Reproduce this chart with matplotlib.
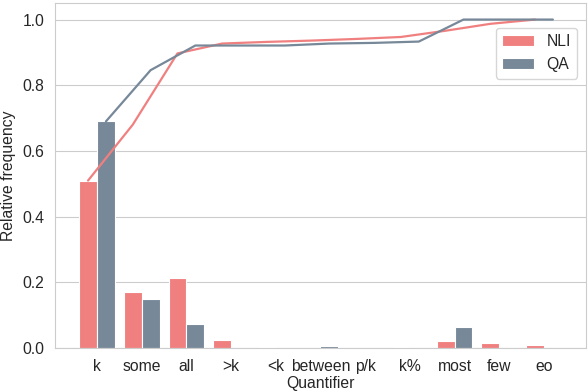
import numpy as np
import matplotlib.pyplot as plt
import seaborn as sns

quantifiers = ['k', 'some', 'all', '>k', '<k', 'between', 'p/k', 'k%', 'most', 'few', 'eo']
nli_freq = [0.508, 0.170, 0.212, 0.024, 0.002, 0.0, 0.0, 0.003, 0.021, 0.014, 0.009]
qa_freq = [0.690, 0.149, 0.073, 0.0, 0.001, 0.006, 0.0, 0.0, 0.064, 0.0, 0.0]
nli_cum = [0.51, 0.68, 0.897, 0.927, 0.932, 0.936, 0.941, 0.947, 0.966, 0.987, 1.0]
qa_cum = [0.69, 0.846, 0.921, 0.921, 0.921, 0.927, 0.929, 0.933, 1.0, 1.0, 1.0]

sns.set_style('whitegrid')
plt.rcParams['font.family'] = ['Liberation Sans', 'DejaVu Sans']

nliColor = '#f08080'
qaColor = '#778899'
w = 0.4

fig = plt.figure(figsize=(5.88, 3.92), dpi=100)
ax = fig.add_axes([0.0935, 0.112, 0.903, 0.88])
x = np.arange(len(quantifiers))

ax.bar(x - w/2, nli_freq, w, color=nliColor, edgecolor='white', linewidth=0.8, label='NLI')
ax.bar(x + w/2, qa_freq, w, color=qaColor, edgecolor='white', linewidth=0.8, label='QA')
ax.plot(x - w/2, nli_cum, color=nliColor, linewidth=1.6)
ax.plot(x + w/2, qa_cum, color=qaColor, linewidth=1.6)

ax.set_xlim(-0.94, 10.94)
ax.set_ylim(0, 1.05)
ax.set_xticks(x)
ax.set_xticklabels(quantifiers)
ax.set_yticks([0, 0.2, 0.4, 0.6, 0.8, 1.0])
ax.set_yticklabels(['0.0', '0.2', '0.4', '0.6', '0.8', '1.0'])
ax.xaxis.grid(False)
ax.tick_params(labelsize=11.3, colors='.15', pad=4)
ax.set_xlabel('Quantifier', fontsize=11.3, color='.15', labelpad=2)
ax.set_ylabel('Relative frequency', fontsize=11.3, color='.15', labelpad=5)
for s in ax.spines.values():
    s.set_color('#cccccc')

ax.legend(loc='upper right', bbox_to_anchor=(0.983, 0.9275), borderaxespad=0,
          fontsize=11.3, frameon=True, edgecolor='#cccccc')

fig.savefig('out.png', dpi=100)
